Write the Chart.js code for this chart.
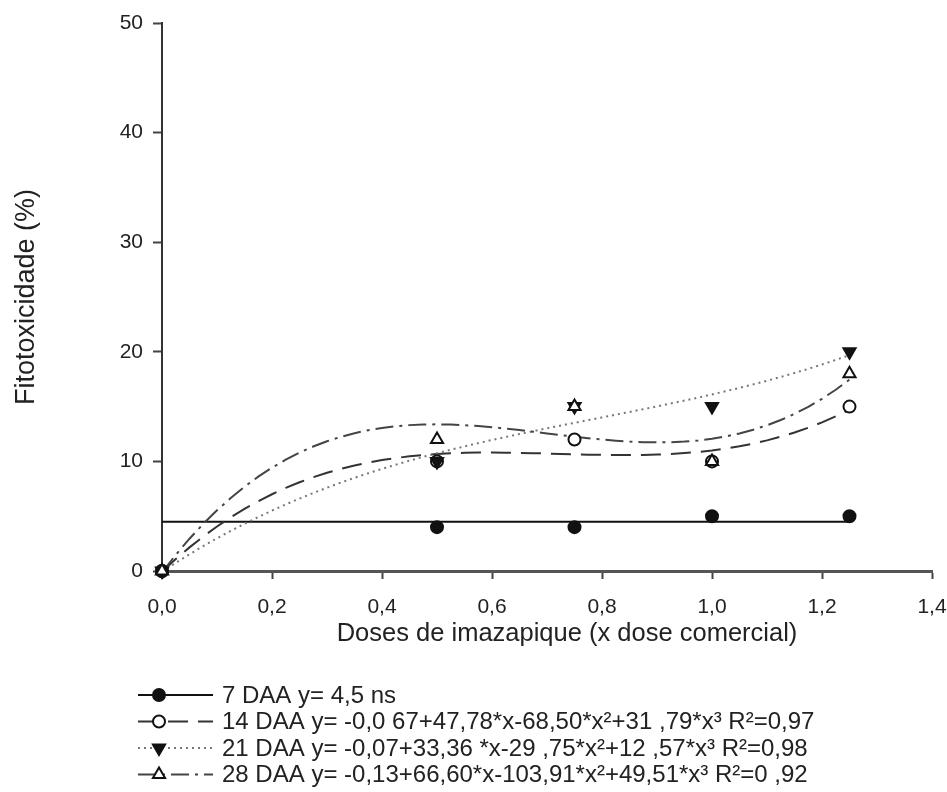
<!DOCTYPE html>
<html>
<head>
<meta charset="utf-8">
<script src="https://cdn.jsdelivr.net/npm/chart.js@4/dist/chart.umd.min.js"></script>
<style>
  html, body { margin: 0; padding: 0; background: #fff; }
  #fito { display: block; }
</style>
</head>
<body>
<canvas id="fito" width="947" height="792"></canvas>
<script>
// doses (x dose comercial) and observed phytotoxicity (%) per evaluation date
const doses = [0, 0.5, 0.75, 1.0, 1.25];
const daa7 = [0, 4, 4, 5, 5];
const daa14 = [0, 10, 12, 10, 15];
const daa21 = [0, 10, 15, 15, 20];
const daa28 = [0, 12, 15, 10, 18];

// regression coefficients printed in the legend (a + b*x + c*x^2 + d*x^3)
const mean7 = 4.5;
const coef14 = [-0.067, 47.78, -68.50, 31.79];
const coef21 = [-0.07, 33.36, -29.75, 12.57];
const coef28 = [-0.13, 66.60, -103.91, 49.51];

const xTicks = [0, 0.2, 0.4, 0.6, 0.8, 1.0, 1.2, 1.4];
const yTicks = [0, 10, 20, 30, 40, 50];

const legendLabels = [
  '7 DAA y= 4,5 ns',
  '14 DAA y= -0,0 67+47,78*x-68,50*x\u00b2+31 ,79*x\u00b3 R\u00b2=0,97',
  '21 DAA y= -0,07+33,36 *x-29 ,75*x\u00b2+12 ,57*x\u00b3 R\u00b2=0,98',
  '28 DAA y= -0,13+66,60*x-103,91*x\u00b2+49,51*x\u00b3 R\u00b2=0 ,92'
];
const xTitle = 'Doses de imazapique (x dose comercial)';
const yTitle = 'Fitotoxicidade (%)';

const FONT = "'Liberation Sans', Arial, sans-serif";

function points(ys) {
  return doses.map((x, i) => ({ x: x, y: ys[i] }));
}

function fitted(coef) {
  const out = [];
  for (let i = 0; i <= 50; i++) {
    const x = i * 0.025;
    out.push({ x: x, y: coef[0] + coef[1] * x + coef[2] * x * x + coef[3] * x * x * x });
  }
  return out;
}

const styles = [
  { color: '#111', dash: [], width: 2, point: 'circle', fill: '#111', radius: 6, rot: 0 },
  { color: '#333', dash: [20, 10], width: 2, point: 'circle', fill: '#fff', radius: 6, rot: 0 },
  { color: '#777', dash: [2, 4], width: 2, point: 'triangle', fill: '#111', radius: 7, rot: 180 },
  { color: '#444', dash: [18, 6, 3, 6], width: 2, point: 'triangle', fill: '#fff', radius: 7, rot: 0 }
];

function curveSet(data, s) {
  return {
    data: data, showLine: true, pointRadius: 0, borderColor: s.color,
    borderWidth: s.width, borderDash: s.dash, fill: false, clip: false
  };
}

function markSet(data, s) {
  return {
    data: data, showLine: false, pointStyle: s.point, pointRadius: s.radius,
    pointRotation: s.rot, pointBackgroundColor: s.fill, pointBorderColor: '#111',
    pointBorderWidth: 2, clip: false
  };
}

// legend rows and x title drawn under the plot
const extras = {
  id: 'extras',
  afterDraw(chart) {
    const ctx = chart.ctx;
    ctx.save();
    ctx.fillStyle = '#222';
    ctx.font = '25.5px ' + FONT;
    ctx.textAlign = 'center';
    ctx.textBaseline = 'middle';
    ctx.fillText(xTitle, 567, 634);

    ctx.font = '24px ' + FONT;
    ctx.textAlign = 'left';
    legendLabels.forEach((txt, i) => {
      const s = styles[i];
      const y = 695 + i * 26.5;
      ctx.beginPath();
      ctx.setLineDash(s.dash);
      ctx.lineWidth = s.width;
      ctx.strokeStyle = s.color;
      ctx.moveTo(138, y);
      ctx.lineTo(213, y);
      ctx.stroke();
      ctx.setLineDash([]);
      // marker
      ctx.fillStyle = s.fill;
      ctx.strokeStyle = '#111';
      ctx.lineWidth = 2;
      ctx.beginPath();
      const r = s.radius;
      if (s.point === 'circle') {
        ctx.arc(159, y, r, 0, Math.PI * 2);
      } else {
        const dir = s.rot ? -1 : 1;
        ctx.moveTo(159, y - dir * r);
        ctx.lineTo(159 + r * 0.87, y + dir * r * 0.5);
        ctx.lineTo(159 - r * 0.87, y + dir * r * 0.5);
        ctx.closePath();
      }
      ctx.fill();
      ctx.stroke();
      ctx.fillStyle = '#222';
      ctx.fillText(txt, 222, y + 1);
    });
    ctx.restore();
  }
};

// Chart.js paints the first dataset last, so markers come first (28 DAA on top)
new Chart(document.getElementById('fito'), {
  type: 'scatter',
  data: {
    datasets: [
      markSet(points(daa28), styles[3]),
      markSet(points(daa21), styles[2]),
      markSet(points(daa14), styles[1]),
      markSet(points(daa7), styles[0]),
      curveSet(fitted(coef28), styles[3]),
      curveSet(fitted(coef21), styles[2]),
      curveSet(fitted(coef14), styles[1]),
      curveSet([{ x: 0, y: mean7 }, { x: 1.25, y: mean7 }], styles[0])
    ]
  },
  options: {
    responsive: false,
    animation: false,
    devicePixelRatio: 1,
    layout: { padding: { top: 23, right: 15, left: 0, bottom: 0 } },
    plugins: { legend: { display: false }, tooltip: { enabled: false } },
    scales: {
      x: {
        type: 'linear', min: 0, max: 1.4,
        afterBuildTicks: (scale) => { scale.ticks = xTicks.map(v => ({ value: v })); },
        afterFit: (scale) => {
          scale.height = 221;
          scale.paddingLeft = 0;
          scale.paddingRight = 0;
        },
        border: { display: true, color: '#555', width: 3 },
        grid: { drawOnChartArea: false, drawTicks: true, tickLength: 8, tickWidth: 2, color: '#444' },
        ticks: {
          padding: 16, color: '#222', font: { family: FONT, size: 21 },
          maxRotation: 0, autoSkip: false,
          callback: (v) => Number(v).toFixed(1).replace('.', ',')
        }
      },
      y: {
        type: 'linear', min: 0, max: 50,
        afterBuildTicks: (scale) => { scale.ticks = yTicks.map(v => ({ value: v })); },
        afterFit: (scale) => {
          scale.width = 162;
          scale.paddingTop = 0;
          scale.paddingBottom = 0;
        },
        border: { display: true, color: '#333', width: 2 },
        grid: { drawOnChartArea: false, drawTicks: true, tickLength: 9, tickWidth: 2, color: '#444' },
        title: {
          display: true, text: yTitle, color: '#222',
          font: { family: FONT, size: 27 }, padding: { top: 10, bottom: 0 }
        },
        ticks: { padding: 10, color: '#222', font: { family: FONT, size: 21 } }
      }
    }
  },
  plugins: [extras]
});
</script>
</body>
</html>
